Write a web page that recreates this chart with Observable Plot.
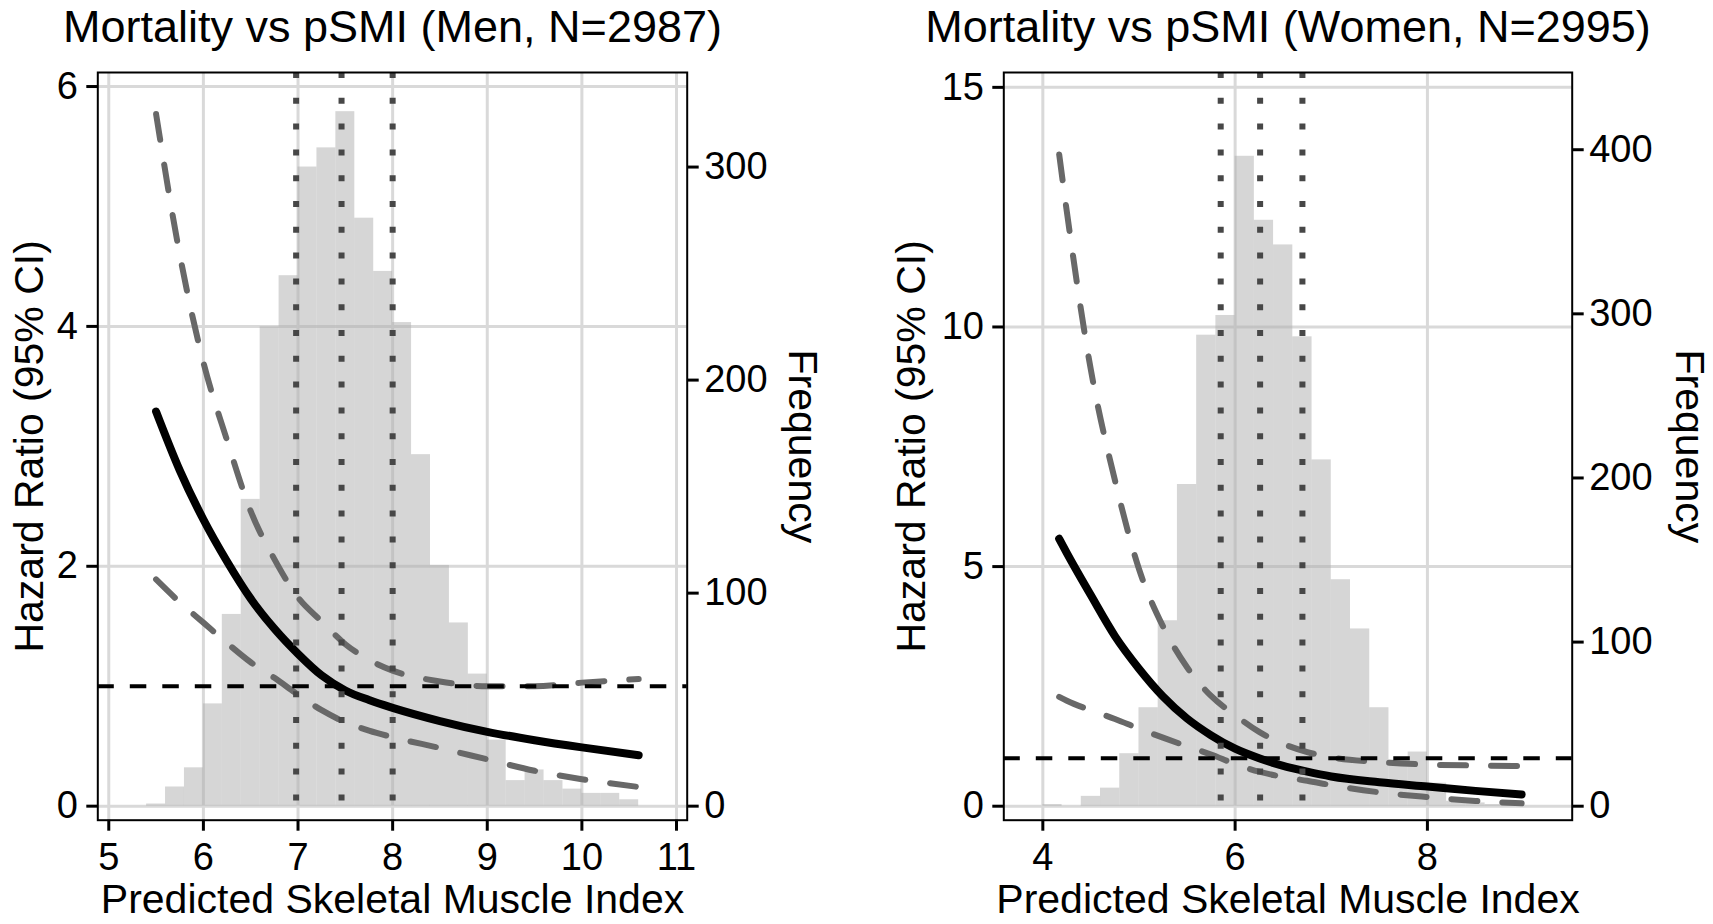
<!DOCTYPE html>
<html>
<head>
<meta charset="utf-8">
<script src="https://cdn.jsdelivr.net/npm/d3@7"></script>
<script src="https://cdn.jsdelivr.net/npm/@observablehq/plot@0.6"></script>
<style>
  html, body { margin: 0; padding: 0; background: #fff; overflow: hidden; }
  #wrap { position: relative; width: 1713px; height: 924px; }
  .panel { position: absolute; top: 0; }
</style>
</head>
<body>
<div id="wrap"><div id="men" class="panel" style="left:0px"></div><div id="women" class="panel" style="left:856px"></div></div>
<script>
// ---------- Data ----------
const binWidth = 0.2;

// Men histogram
const menBinStart = [5.4,5.6,5.8,6.0,6.2,6.4,6.6,6.8,7.0,7.2,7.4,7.6,7.8,8.0,8.2,8.4,8.6,8.8,9.0,9.2,9.4,9.6,9.8,10.0,10.2,10.4];
const menCounts   = [1,9,18,48,90,144,225,249,300,309,326,276,251,227,165,113,86,62,31,12,17,12,8,6,6,3];

// Men hazard ratio curve and 95% CI
const menX     = [5.5,5.75,6.0,6.25,6.5,6.75,7.0,7.25,7.5,7.75,8.0,8.5,9.0,9.5,10.0,10.6];
const menHR    = [3.29,2.8,2.39,2.04,1.73,1.48,1.27,1.09,0.965,0.885,0.82,0.71,0.62,0.55,0.49,0.425];
const menLower = [1.89,1.70,1.53,1.36,1.20,1.07,0.93,0.80,0.70,0.63,0.575,0.485,0.39,0.295,0.225,0.16];
const menUpper = [5.77,4.6,3.7,3.05,2.46,2.06,1.74,1.54,1.35,1.22,1.13,1.04,1.0,1.0,1.03,1.06];
const menQuantiles = [6.98, 7.46, 8.0];

// Women histogram
const womenBinStart = [4.0,4.2,4.4,4.6,4.8,5.0,5.2,5.4,5.6,5.8,6.0,6.2,6.4,6.6,6.8,7.0,7.2,7.4,7.6,7.8,8.0,8.2,8.4,8.6,8.8];
const womenCounts   = [1,0,6,11,32,60,113,196,287,299,396,357,342,286,211,138,108,60,28,33,14,3,2,1,3];

// Women hazard ratio curve and 95% CI
const womenX     = [4.17,4.25,4.5,4.75,5.0,5.25,5.5,5.75,6.0,6.25,6.5,6.75,7.0,7.5,8.0,8.5,8.98];
const womenHR    = [5.58,5.28,4.4,3.55,2.87,2.29,1.83,1.48,1.2,1.0,0.84,0.72,0.62,0.5,0.41,0.32,0.245];
const womenLower = [2.28,2.2,2.0,1.82,1.62,1.43,1.25,1.08,0.88,0.72,0.61,0.53,0.44,0.29,0.19,0.11,0.06];
const womenUpper = [13.6,12.4,9.1,6.8,4.95,3.75,2.9,2.3,1.9,1.55,1.3,1.13,1.02,0.92,0.87,0.85,0.84];
const womenQuantiles = [5.85, 6.26, 6.70];

// Axis ticks
const menXTicks = [5,6,7,8,9,10,11];
const menYTicks = [0,2,4,6];
const menFreqTicks = [0,100,200,300];
const womenXTicks = [4,6,8];
const womenYTicks = [0,5,10,15];
const womenFreqTicks = [0,100,200,300,400];

// Secondary-axis factor (frequency per hazard-ratio unit)
const menFreqPerHR = 56.3;
const womenFreqPerHR = 29.2;

const menTitle = "Mortality vs pSMI (Men, N=2987)";
const womenTitle = "Mortality vs pSMI (Women, N=2995)";
const xTitle = "Predicted Skeletal Muscle Index";
const yTitle = "Hazard Ratio (95% CI)";
const y2Title = "Frequency";

// ---------- Drawing ----------
const FONT = "'Liberation Sans', Arial, Helvetica, sans-serif";

function panel(cfg) {
  const k = cfg.k;
  const bins = cfg.binStart.map((x0, i) => ({x0, x1: x0 + binWidth, y: cfg.counts[i] / k}));
  const curve = cfg.cx.map((x, i) => ({x, hr: cfg.hr[i], lo: cfg.lo[i], hi: cfg.hi[i]}));
  const grid = {stroke: "#d9d9d9", strokeOpacity: 1, strokeWidth: 3};
  const axisStyle = {tickSize: 11, strokeWidth: 3, fontSize: 38, fill: "#000", stroke: "#000", label: null};
  const ci = {stroke: "#686868", strokeWidth: 6, strokeDasharray: "26,25", curve: "monotone-x"};
  return Plot.plot({
    width: cfg.width,
    height: 924,
    marginLeft: cfg.mL,
    marginRight: cfg.mR,
    marginTop: 72,
    marginBottom: 104.3,
    style: {fontFamily: FONT, background: "transparent", overflow: "visible", color: "#000"},
    x: {domain: cfg.xDomain, label: null},
    y: {domain: cfg.yDomain, label: null},
    marks: [
      Plot.gridX(cfg.xTicks, grid),
      Plot.gridY(cfg.yTicks, grid),
      Plot.rect(bins, {x1: "x0", x2: "x1", y1: () => 0, y2: "y", fill: "#aeaeae", fillOpacity: 0.5}),
      Plot.line(curve, {x: "x", y: "lo", ...ci}),
      Plot.line(curve, {x: "x", y: "hi", ...ci}),
      Plot.line(curve, {x: "x", y: "hr", stroke: "#000", strokeWidth: 8, curve: "monotone-x"}),
      Plot.ruleY([1], {stroke: "#000", strokeWidth: 4, strokeDasharray: "16.5,16"}),
      Plot.ruleX(cfg.quants, {stroke: "#474747", strokeWidth: 6, strokeDasharray: "6,19.8"}),
      Plot.frame({stroke: "#000", strokeWidth: 2}),
      Plot.axisX(cfg.xTicks, {...axisStyle, anchor: "bottom", tickPadding: 11.5, tickFormat: d => String(d)}),
      Plot.axisY(cfg.yTicks, {...axisStyle, anchor: "left", tickPadding: 8.8, tickFormat: d => String(d)}),
      Plot.axisY(cfg.freqTicks.map(f => f / k), {...axisStyle, anchor: "right", tickPadding: 6,
        tickFormat: d => String(Math.round(d * k))}),
      Plot.text([cfg.title], {text: d => d, frameAnchor: "top", textAnchor: "middle", dy: -30.3, lineAnchor: "bottom", fontSize: 45, fill: "#000"}),
      Plot.text([xTitle], {text: d => d, frameAnchor: "bottom", textAnchor: "middle", dy: 92.6, lineAnchor: "bottom", fontSize: 41, fill: "#000"}),
      Plot.text([yTitle], {text: d => d, frameAnchor: "left", textAnchor: "middle", dx: cfg.yTitleDx, rotate: -90, lineAnchor: "bottom", fontSize: 41, fill: "#000"}),
      Plot.text([y2Title], {text: d => d, frameAnchor: "right", textAnchor: "middle", dx: cfg.y2TitleDx, rotate: 90, lineAnchor: "bottom", fontSize: 41, fill: "#000"})
    ]
  });
}

document.getElementById("men").append(panel({
  width: 856, mL: 97.3, mR: 169.3,
  xDomain: [4.884, 11.113], yDomain: [-0.117, 6.117],
  xTicks: menXTicks, yTicks: menYTicks, freqTicks: menFreqTicks, k: menFreqPerHR,
  binStart: menBinStart, counts: menCounts,
  cx: menX, hr: menHR, lo: menLower, hi: menUpper, quants: menQuantiles,
  title: menTitle, yTitleDx: -55.3, y2TitleDx: 101.3
}));

document.getElementById("women").append(panel({
  width: 857, mL: 147.3, mR: 141.3,
  xDomain: [3.594, 9.506], yDomain: [-0.292, 15.31],
  xTicks: womenXTicks, yTicks: womenYTicks, freqTicks: womenFreqTicks, k: womenFreqPerHR,
  binStart: womenBinStart, counts: womenCounts,
  cx: womenX, hr: womenHR, lo: womenLower, hi: womenUpper, quants: womenQuantiles,
  title: womenTitle, yTitleDx: -79.3, y2TitleDx: 103.3
}));
</script>
</body>
</html>
